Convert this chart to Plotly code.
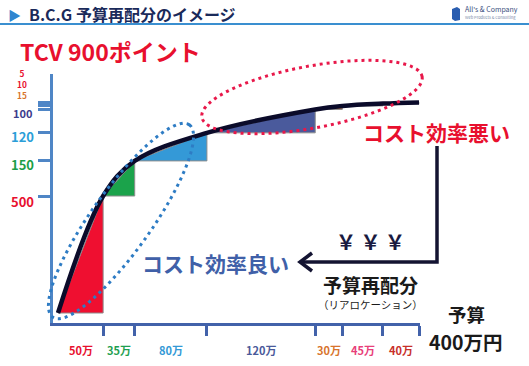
import math
import plotly.graph_objects as go

# ---------------- data ----------------
segment_budget = [50, 35, 80, 120, 30, 45, 40]          # 万円
segment_budget_labels = ["50万", "35万", "80万", "120万", "30万", "45万", "40万"]
segment_tcv = [500, 150, 120, 100, 15, 10, 5]           # points
segment_tcv_labels = ["500", "150", "120", "100", "15", "10", "5"]
segment_colors = ["#ef0f30", "#1ba34b", "#3499d7", "#4a5a9c", "#c97843", "#da4c79", "#ee1530"]
label_colors_x = ["#e8102e", "#1fa050", "#3399d6", "#4a5a9a", "#d8742c", "#e8407a", "#c8302a"]
label_colors_y = ["#e8102e", "#1c9e48", "#2b9ed8", "#3c3c8c", "#d8742c", "#e8102e", "#e8102e"]

W, H = 529, 366
FONT = "Noto Sans CJK JP, Noto Sans, sans-serif"


def px(x):
    return x / W


def py(y):
    return 1 - y / H


def path(points, closed=False):
    s = "M " + " L ".join(f"{px(x):.5f},{py(y):.5f}" for x, y in points)
    return s + (" Z" if closed else "")


def ellipse(cx, cy, a, b, ang_deg, n=90):
    th = math.radians(ang_deg)
    pts = []
    for k in range(n):
        t = 2 * math.pi * k / n
        ex, ey = a * math.cos(t), b * math.sin(t)
        pts.append((cx + ex * math.cos(th) - ey * math.sin(th),
                    cy + ex * math.sin(th) + ey * math.cos(th)))
    return path(pts, closed=True)


cum_x = [0]
cum_y = [0]
for b, t in zip(segment_budget, segment_tcv):
    cum_x.append(cum_x[-1] + b)
    cum_y.append(cum_y[-1] + t)

fig = go.Figure()

# colored gain triangles
for i in range(len(segment_budget)):
    x0, x1 = cum_x[i], cum_x[i + 1]
    y0, y1 = cum_y[i], cum_y[i + 1]
    fig.add_trace(go.Scatter(
        x=[x0, x1, x1, x0], y=[y0, y1, y0, y0], mode="lines", fill="toself",
        fillcolor=segment_colors[i], line=dict(color="#8c8c8c", width=1),
        hoverinfo="skip", showlegend=False))

# TCV curve
fig.add_trace(go.Scatter(
    x=cum_x, y=cum_y, mode="lines",
    line=dict(color="#0b0b2a", width=4.5, shape="spline", smoothing=1.0),
    hoverinfo="skip", showlegend=False))

shapes = []
# title underline
shapes.append(dict(type="line", xref="paper", yref="paper", x0=0, x1=1, y0=py(24), y1=py(24),
                   line=dict(color="#3a8fd0", width=2)))
# logo icon
shapes.append(dict(type="path", xref="paper", yref="paper",
                   path=path([(452, 9), (457, 7), (460, 9), (460, 20), (455, 21), (452, 19)], closed=True),
                   fillcolor="#2a5db0", line=dict(width=0)))
# dotted ellipses
shapes.append(dict(type="path", xref="paper", yref="paper", path=ellipse(121, 221, 118, 30, -54.6),
                   line=dict(color="#2e7cc4", width=3, dash="3px,4px")))
shapes.append(dict(type="path", xref="paper", yref="paper", path=ellipse(312, 97, 112, 31, -10.5),
                   line=dict(color="#e8184a", width=3, dash="3px,4px")))
# reallocation arrow
shapes.append(dict(type="path", xref="paper", yref="paper",
                   path=path([(437, 146), (437, 262), (301, 262)]),
                   line=dict(color="#141432", width=3.5)))
shapes.append(dict(type="path", xref="paper", yref="paper",
                   path=path([(312, 253), (300, 262), (312, 271)]),
                   line=dict(color="#141432", width=3.5)))

ann = []


def text(x, y, s, size, color, bold=True, anchor="center", pad=1):
    ann.append(dict(xref="paper", yref="paper", x=px(x), y=py(y), text=(f"<b>{s}</b>" if bold else s),
                    showarrow=False, xanchor=anchor, yanchor="middle", borderpad=pad,
                    font=dict(family=FONT, size=size, color=color)))


text(14, 14, "▶", 13, "#2e86d0", bold=False)
text(27, 14, "B.C.G 予算再配分のイメージ", 16, "#1a2a5a", anchor="left")
text(463, 9, "All's &amp; Company", 7, "#3a5080", bold=False, anchor="left")
text(463, 17, "Web Products &amp; Consulting", 4, "#7a8aa8", bold=False, anchor="left")
text(19, 51, "TCV 900ポイント", 23, "#e8102e", anchor="left", pad=0)
text(215, 263, "コスト効率良い", 21, "#4060a8")
text(436, 132, "コスト効率悪い", 21, "#e8102e")
text(370, 242, "￥ ￥ ￥", 20, "#1a1a40")
text(370, 284, "予算再配分", 19, "#1a1a1a", pad=0)
text(370, 304, "（リアロケーション）", 10.5, "#1a1a1a", bold=False, pad=0)
text(466, 314, "予算", 18.5, "#1a1a1a", pad=0)
text(466, 341, "400万円", 19.5, "#1a1a1a", pad=0)

# x segment labels (centred on each budget segment)
for i, lab in enumerate(segment_budget_labels):
    ann.append(dict(xref="x", yref="paper", x=(cum_x[i] + cum_x[i + 1]) / 2, y=py(350),
                    text=f"<b>{lab}</b>", showarrow=False, xanchor="center", yanchor="middle",
                    font=dict(family=FONT, size=11, color=label_colors_x[i])))

# y labels at cumulative TCV; the tiny top steps (last three) are stacked in one label block
y_shift = [-5, -4, -4, -4]
y_size = [13, 13, 13, 11]
for i in range(4):
    ann.append(dict(xref="paper", yref="y", x=px(22), y=cum_y[i + 1], yshift=y_shift[i],
                    text=f"<b>{segment_tcv_labels[i]}</b>", showarrow=False, xanchor="center",
                    yanchor="middle", borderpad=0,
                    font=dict(family=FONT, size=y_size[i], color=label_colors_y[i])))
top_block = "<br>".join(
    f"<span style='color:{label_colors_y[i]}'><b>{segment_tcv_labels[i]}</b></span>"
    for i in range(len(segment_tcv) - 1, 3, -1))
ann.append(dict(xref="paper", yref="y", x=px(22), y=cum_y[-1], yshift=18, text=top_block,
                showarrow=False, xanchor="center", yanchor="middle", borderpad=0,
                font=dict(family=FONT, size=8.3, color="#e8102e")))

fig.update_layout(
    width=W, height=H, margin=dict(l=0, r=0, t=0, b=0),
    paper_bgcolor="white", plot_bgcolor="white", showlegend=False,
    shapes=shapes, annotations=ann,
    xaxis=dict(domain=[53 / W, 420 / W], range=[-5.54, 401.1], showgrid=False, zeroline=False,
               showline=True, linecolor="#4262aa", linewidth=3, ticks="outside",
               tickvals=cum_x[1:], ticklen=10, tickwidth=3, tickcolor="#4262aa",
               showticklabels=False, fixedrange=True),
    yaxis=dict(domain=[(H - 323) / H, (H - 74) / H], range=[-42.7, 1021.4], showgrid=False,
               zeroline=False, showline=True, linecolor="#4f86c6", linewidth=3, ticks="outside",
               tickvals=cum_y[1:], ticklen=12, tickwidth=3, tickcolor="#4f86c6",
               showticklabels=False, fixedrange=True),
)

fig.write_html("out.html", config={"displayModeBar": False},
               post_script="document.body.style.margin='0px';document.body.style.overflow='hidden';")
